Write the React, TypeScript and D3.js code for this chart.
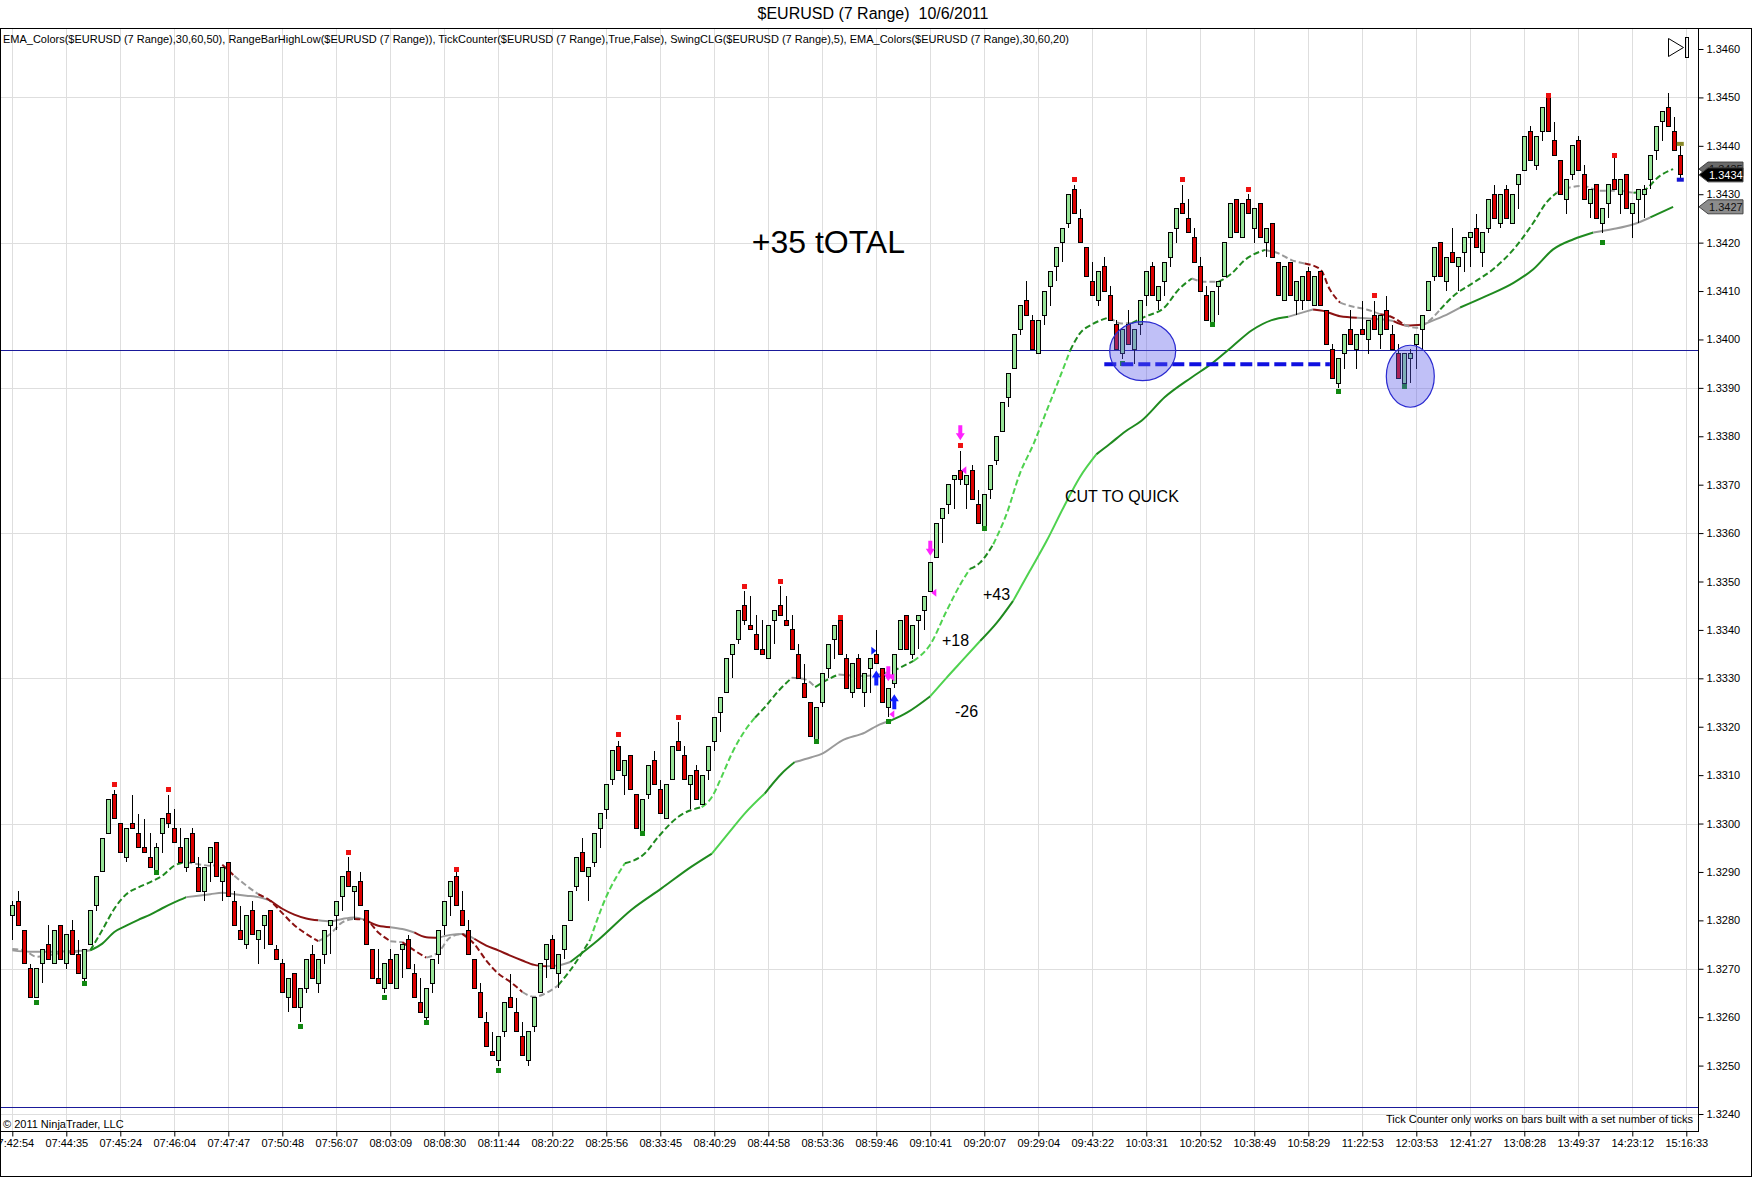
import * as d3 from "d3";
import { useEffect, useRef } from "react";

// prices are kept in pips above 1.3200
const BASE = 1.32;
const PIP = 0.0001;

const opens = [
  81, 84, 78, 70, 64, 71, 75, 71, 79, 71,
  78, 73, 68, 75, 83, 90, 98, 106, 100, 93,
  100, 98, 95, 93, 90, 98, 102, 99, 95, 91,
  98, 91, 86, 92, 96, 88, 92, 84, 78, 75,
  82, 76, 79, 82, 74, 71, 64, 69, 62, 66,
  73, 67, 73, 79, 81, 85, 90, 86, 88, 82,
  74, 68, 66, 72, 66, 74, 76, 69, 63, 60,
  67, 73, 79, 85, 89, 82, 78, 72, 65, 59,
  53, 51, 57, 64, 61, 56, 51, 58, 65, 72,
  76, 69, 74, 80, 87, 94, 89, 92, 99, 103,
  109, 116, 110, 114, 106, 98, 106, 113, 107, 101,
  109, 117, 114, 108, 111, 104, 111, 117, 123, 127,
  135, 138, 145, 141, 139, 136, 134, 142, 145, 142,
  140, 135, 129, 125, 117, 125, 132, 138, 142, 134,
  127, 134, 127, 132, 135, 132, 124, 129, 136, 143,
  135, 142, 144, 148, 155, 163, 166, 171, 173, 170,
  173, 166, 161, 169, 175, 181, 188, 194, 202, 208,
  204, 197, 205, 211, 215, 220, 224, 231, 225, 219,
  212, 208, 215, 209, 203, 197, 203, 198, 203, 209,
  215, 208, 212, 217, 223, 228, 225, 221, 215, 209,
  203, 211, 213, 221, 229, 221, 229, 223, 228, 220,
  224, 216, 208, 216, 208, 208, 214, 207, 214, 206,
  198, 191, 197, 202, 198, 202, 200, 205, 201, 206,
  201, 197, 191, 196, 199, 202, 206, 213, 220, 212,
  218, 215, 218, 221, 223, 218, 223, 230, 224, 231,
  224, 232, 235, 243, 236, 243, 250, 241, 237, 229,
  234, 241, 234, 228, 232, 224, 228, 233, 230, 234,
  226, 229, 230, 233, 239, 245, 248, 243, 238,
];

const highs = [
  84, 86, 78, 71, 70, 74, 79, 78, 79, 77,
  80, 76, 74, 82, 89, 97, 105, 107, 100, 99,
  106, 102, 101, 98, 96, 101, 106, 103, 99, 97,
  99, 93, 91, 95, 96, 91, 92, 86, 83, 81,
  84, 78, 81, 82, 75, 72, 68, 69, 66, 72,
  75, 72, 78, 80, 84, 89, 93, 87, 90, 82,
  74, 74, 71, 74, 73, 75, 77, 71, 68, 66,
  72, 78, 84, 88, 90, 86, 80, 72, 67, 61,
  57, 56, 63, 69, 64, 59, 57, 64, 71, 75,
  77, 73, 79, 86, 93, 97, 91, 98, 102, 108,
  115, 117, 113, 114, 106, 105, 112, 115, 109, 108,
  116, 121, 116, 110, 112, 110, 116, 122, 126, 134,
  137, 144, 148, 147, 143, 142, 141, 144, 149, 147,
  143, 137, 133, 125, 124, 131, 137, 141, 142, 135,
  133, 135, 131, 134, 140, 132, 128, 135, 142, 143,
  141, 143, 147, 154, 162, 165, 170, 172, 177, 172,
  174, 169, 168, 174, 180, 187, 193, 201, 207, 212,
  205, 204, 210, 214, 219, 223, 230, 232, 227, 219,
  216, 214, 217, 211, 204, 202, 206, 202, 208, 214,
  216, 211, 216, 222, 227, 232, 229, 223, 217, 211,
  210, 212, 220, 228, 229, 228, 230, 227, 228, 223,
  224, 216, 215, 216, 212, 213, 215, 213, 214, 206,
  199, 196, 201, 206, 201, 208, 204, 208, 205, 209,
  203, 199, 197, 198, 201, 205, 212, 219, 220, 217,
  223, 217, 221, 222, 226, 222, 229, 232, 230, 232,
  230, 234, 242, 244, 242, 248, 250, 245, 237, 233,
  240, 242, 236, 231, 232, 227, 232, 238, 233, 234,
  228, 231, 232, 238, 244, 247, 251, 246, 240,
];

const lows = [
  76, 79, 71, 64, 64, 67, 72, 71, 72, 70,
  73, 69, 67, 75, 82, 90, 98, 101, 94, 92,
  99, 95, 94, 91, 90, 94, 99, 96, 92, 90,
  92, 86, 84, 88, 89, 84, 85, 79, 76, 74,
  77, 71, 74, 75, 72, 65, 61, 62, 59, 65,
  68, 65, 71, 73, 78, 82, 87, 80, 83, 75,
  68, 67, 65, 67, 66, 68, 70, 64, 61, 59,
  65, 71, 77, 81, 83, 79, 73, 66, 60, 54,
  52, 50, 56, 62, 57, 52, 50, 57, 65, 68,
  70, 66, 72, 80, 86, 90, 84, 91, 95, 101,
  108, 111, 106, 107, 99, 98, 105, 108, 102, 101,
  109, 115, 109, 103, 105, 104, 109, 115, 119, 127,
  130, 137, 141, 140, 136, 135, 134, 137, 143, 141,
  136, 130, 126, 118, 117, 124, 130, 134, 135, 128,
  126, 128, 124, 127, 133, 125, 122, 128, 136, 136,
  134, 136, 140, 148, 155, 158, 164, 165, 170, 165,
  167, 162, 161, 167, 174, 181, 186, 194, 201, 205,
  198, 197, 203, 207, 212, 216, 223, 226, 220, 213,
  209, 207, 210, 204, 198, 196, 199, 195, 201, 207,
  209, 206, 209, 215, 220, 226, 222, 216, 210, 204,
  203, 205, 213, 221, 222, 221, 226, 220, 221, 217,
  217, 209, 208, 209, 205, 206, 208, 207, 207, 199,
  192, 190, 194, 199, 194, 201, 197, 202, 198, 202,
  198, 192, 190, 191, 194, 198, 206, 212, 213, 210,
  216, 210, 214, 215, 219, 215, 222, 225, 223, 225,
  224, 227, 235, 237, 235, 241, 243, 238, 230, 226,
  233, 235, 229, 225, 225, 222, 225, 231, 226, 227,
  221, 224, 225, 231, 237, 241, 244, 239, 233,
];

const closes = [
  83, 79, 71, 64, 70, 74, 72, 78, 72, 77,
  73, 69, 74, 82, 89, 97, 105, 101, 94, 99,
  99, 95, 94, 91, 95, 101, 100, 96, 92, 97,
  92, 86, 91, 95, 89, 91, 85, 79, 76, 81,
  77, 78, 81, 75, 72, 65, 68, 62, 66, 72,
  68, 72, 78, 80, 84, 89, 87, 87, 83, 75,
  68, 67, 71, 67, 73, 75, 70, 64, 61, 66,
  72, 78, 84, 88, 83, 79, 73, 66, 60, 54,
  52, 56, 63, 62, 57, 52, 57, 64, 71, 75,
  70, 73, 79, 86, 93, 90, 91, 98, 102, 108,
  115, 111, 113, 107, 99, 105, 112, 108, 102, 108,
  116, 115, 109, 110, 105, 110, 116, 122, 126, 134,
  137, 144, 142, 140, 136, 135, 141, 144, 143, 141,
  136, 130, 126, 118, 124, 131, 137, 141, 135, 128,
  133, 128, 131, 134, 133, 125, 128, 135, 142, 136,
  141, 143, 147, 154, 162, 165, 170, 172, 171, 172,
  167, 162, 168, 174, 180, 187, 193, 201, 207, 205,
  198, 204, 210, 214, 219, 223, 230, 226, 220, 213,
  209, 214, 210, 204, 198, 202, 199, 202, 208, 214,
  209, 211, 216, 222, 227, 226, 222, 216, 210, 204,
  210, 212, 220, 228, 222, 228, 226, 227, 221, 223,
  217, 209, 215, 209, 212, 213, 208, 213, 207, 199,
  192, 196, 201, 199, 201, 201, 204, 202, 205, 202,
  198, 192, 197, 197, 201, 205, 212, 219, 213, 217,
  216, 217, 221, 222, 219, 222, 229, 225, 230, 225,
  230, 234, 242, 237, 242, 248, 243, 238, 230, 233,
  240, 235, 229, 231, 225, 227, 232, 231, 233, 227,
  228, 231, 231, 238, 244, 247, 244, 239, 234,
];

// EMA readings: [bar, pips, colour of the stretch that follows]
// g = rising, l = rising fast, s = flat, r = falling
const fastEma: [number, number, string][] = [
  [1, 74.1, "s"], [3, 73.8, "s"], [5, 72.5, "s"], [7, 72.8, "s"], [9, 73.2, "s"],
  [11, 73.4, "s"], [14, 73.8, "g"], [16, 78, "g"], [18, 82.4, "g"], [20, 85.4, "g"],
  [22, 86.8, "g"], [24, 87.9, "g"], [26, 89.2, "g"], [28, 91.3, "g"], [30, 92, "s"],
  [32, 91.6, "s"], [34, 91.3, "s"], [36, 91.5, "r"], [38, 89.2, "s"], [40, 87.2, "s"],
  [42, 85.4, "r"], [44, 84, "r"], [46, 81.5, "r"], [48, 79, "r"], [50, 77.2, "r"],
  [52, 75.7, "s"], [54, 77.2, "s"], [56, 79.6, "s"], [58, 80.3, "r"], [60, 80, "r"],
  [62, 77.5, "r"], [64, 75.7, "s"], [66, 75.5, "r"], [68, 73.8, "r"], [70, 72.3, "s"],
  [72, 73.4, "s"], [74, 76.5, "s"], [76, 77.2, "r"], [78, 75.1, "r"], [80, 71.7, "r"],
  [82, 69, "r"], [84, 67.3, "r"], [86, 65.2, "s"], [88, 64.2, "s"], [90, 65, "s"],
  [92, 66.6, "g"], [94, 69.7, "g"], [97.3, 76, "l"], [100, 84.9, "l"], [103.1, 91.8, "g"],
  [106.4, 93.8, "g"], [108.7, 97.3, "g"], [112, 101.4, "g"], [115.9, 103.4, "l"],
  [117.6, 105.5, "l"], [119.2, 109.6, "l"], [120.9, 114.4, "l"], [123.1, 119.2, "l"],
  [124.8, 121.9, "g"], [126.4, 124, "g"], [128.7, 127.4, "g"], [130.9, 130.1, "s"],
  [133.1, 129.8, "s"], [134.8, 128.2, "g"], [137, 129.8, "g"], [138.7, 130.8, "s"],
  [143.1, 130.5, "s"], [147.8, 131.5, "g"], [151.2, 133.6, "l"], [154, 137, "l"],
  [156.7, 143.9, "l"], [159, 149.4, "l"], [160.6, 152.6, "g"], [162.3, 153.9, "g"],
  [164.5, 157.7, "l"], [166.7, 163.9, "l"], [168.9, 172.2, "l"], [171.2, 178.4, "l"],
  [173.4, 185.3, "l"], [175.6, 192.2, "l"], [177.3, 197.7, "g"], [178.9, 201.2, "g"],
  [181.1, 203.2, "g"], [183.9, 204.6, "s"], [185.9, 203.3, "s"], [187.6, 203.4, "g"],
  [189.8, 204.7, "g"], [193.1, 206.7, "g"], [195.3, 210.2, "g"], [197.6, 212.6, "s"],
  [199.8, 211.9, "s"], [202, 211.9, "g"], [204.2, 213.6, "g"], [206.4, 216.4, "g"],
  [209.8, 218.5, "s"], [212, 217.8, "s"], [214.2, 216.4, "s"], [216.4, 215.7, "r"],
  [219, 214.5, "r"], [220.6, 210.3, "r"], [222.3, 207.6, "s"], [224, 206.9, "s"],
  [226.7, 206.2, "s"], [229, 205.2, "r"], [230.6, 204.8, "r"], [232.9, 203.1, "s"],
  [235, 202.4, "s"], [236.7, 203.4, "s"], [239, 206.2, "g"], [241.2, 209, "g"],
  [244.5, 211.7, "g"], [247.8, 214.5, "g"], [251.2, 218.6, "g"], [254.5, 224.1, "g"],
  [256.7, 228.3, "g"], [258.4, 230.3, "s"], [260.6, 231.4, "s"], [262.8, 231.7, "s"],
  [265.6, 230.7, "s"], [268.4, 230.7, "s"], [271.2, 230.3, "g"], [272.8, 230.7, "g"],
  [275.6, 233.8, "g"], [277.8, 235.2, "g"],
];

const slowEma: [number, number, string][] = [
  [1, 73.8, "s"], [4, 73.5, "s"], [7, 73.5, "s"], [10, 73.6, "s"], [14, 73.8, "g"],
  [16, 75.2, "g"], [18, 77.6, "g"], [20, 78.9, "g"], [22, 80.1, "g"], [24, 81.2, "g"],
  [26, 82.5, "g"], [28, 83.7, "g"], [30, 84.8, "s"], [32, 85.1, "s"], [34, 85.4, "s"],
  [36, 85.7, "s"], [38, 85.4, "s"], [40, 85.1, "s"], [42, 84.8, "s"], [44, 84.1, "r"],
  [46, 82.4, "r"], [48, 81.2, "r"], [50, 80.4, "r"], [52, 80, "s"], [54, 79.8, "s"],
  [56, 80.3, "s"], [58, 80.6, "s"], [60, 80, "r"], [62, 78.9, "r"], [64, 78.6, "s"],
  [66, 78.2, "s"], [68, 77.5, "r"], [70, 76.5, "r"], [72, 76.4, "s"], [74, 77, "s"],
  [76, 77.2, "s"], [78, 76.2, "r"], [80, 74.8, "r"], [82, 73.8, "r"], [84, 72.7, "r"],
  [86, 71.7, "r"], [88, 70.8, "r"], [90, 70.5, "s"], [92, 70.7, "s"], [94, 71.4, "g"],
  [98.7, 76, "g"], [104.2, 82.2, "g"], [109.2, 86.6, "g"], [114.2, 91.1, "g"],
  [117.6, 93.8, "l"], [120.3, 97.9, "l"], [123.1, 102.1, "l"], [126.4, 106.2, "g"],
  [129.2, 110.3, "g"], [131.4, 112.7, "s"], [134.2, 113.7, "s"], [135.9, 114.4, "s"],
  [139.2, 117.1, "s"], [143.1, 118.8, "s"], [145.6, 120.5, "s"], [147.3, 121.2, "g"],
  [150.1, 122.9, "g"], [154, 126.3, "l"], [156.7, 130.1, "l"], [159.5, 133.9, "l"],
  [162.3, 137.7, "g"], [165.1, 141.5, "g"], [167.8, 146, "l"], [170.6, 152.2, "l"],
  [173.4, 158.4, "l"], [176.2, 165.3, "l"], [178.9, 171.5, "l"], [181.7, 176.3, "g"],
  [183.9, 178.4, "g"], [186.5, 181, "g"], [189.2, 183.2, "g"], [193.1, 188.1, "g"],
  [197.6, 192.2, "g"], [200.9, 195, "g"], [204.2, 198.4, "g"], [207.6, 201.9, "g"],
  [210.9, 204, "g"], [213.7, 204.7, "s"], [216.4, 205.7, "s"], [217.8, 206.2, "r"],
  [219.5, 205.9, "r"], [222.3, 204.8, "r"], [225.1, 204.5, "s"], [229.5, 204.1, "s"],
  [231.2, 203.8, "r"], [233.4, 202.9, "r"], [236.2, 203.1, "s"], [239.5, 204.8, "s"],
  [242.3, 206.6, "g"], [246.7, 209, "g"], [251.2, 211.7, "g"], [254.5, 214.5, "g"],
  [257.8, 218.6, "g"], [261.2, 220.7, "g"], [264.5, 222.1, "s"], [267.8, 222.8, "s"],
  [271.2, 223.8, "s"], [274, 225.2, "g"], [277.8, 227.4, "g"],
];

// swing points: [bar, pips]
const swingHighs: [number, number][] = [
  [18, 108], [27, 107], [57, 94], [75, 90.5], [102, 118.3], [112, 122], [123, 149],
  [129, 150], [139, 142.5], [159, 178], [178, 233], [196, 233], [207, 231],
  [228, 209], [257, 250.4], [268, 238],
];
const swingLows: [number, number][] = [
  [5, 63], [13, 67], [25, 89.9], [49, 58], [63, 64], [70, 59], [82, 49], [106, 98],
  [135, 117], [147, 121], [163, 161], [186, 195], [201, 203], [222, 189.2],
  [233, 190.2], [266, 220],
];

// trade markers: [bar, pips]
const sellArrows: [number, number][] = [[147, 129.4], [154, 155.3], [159, 179.2]];
const buyArrows: [number, number][] = [[145, 131.6], [148, 126.7]];
const exitMarks: [number, number][] = [[147, 130.2], [147, 122.6], [154, 147.7], [159, 173]];
const entryMarks: [number, number][] = [[145, 135.7]];

// drawn objects
const hLines = [1.33978, 1.32414];
const supportLine = { from: 183, to: 220.6, price: 1.33949 };
const ellipses = [
  { b0: 183.9, b1: 194.9, p0: 191.5, p1: 203.7 },
  { b0: 230, b1: 238, p0: 186, p1: 198.8 },
];

const timeLabels = [
  "07:42:54", "07:44:35", "07:45:24", "07:46:04", "07:47:47", "07:50:48", "07:56:07",
  "08:03:09", "08:08:30", "08:11:44", "08:20:22", "08:25:56", "08:33:45", "08:40:29",
  "08:44:58", "08:53:36", "08:59:46", "09:10:41", "09:20:07", "09:29:04", "09:43:22",
  "10:03:31", "10:20:52", "10:38:49", "10:58:29", "11:22:53", "12:03:53", "12:41:27",
  "13:08:28", "13:49:37", "14:23:12", "15:16:33",
];
const priceTicks = [
  1.324, 1.325, 1.326, 1.327, 1.328, 1.329, 1.33, 1.331, 1.332, 1.333, 1.334, 1.335,
  1.336, 1.337, 1.338, 1.339, 1.34, 1.341, 1.342, 1.343, 1.344, 1.345, 1.346,
];
const gridPrices = [1.324, 1.327, 1.33, 1.333, 1.336, 1.339, 1.342, 1.345];

const indicatorText =
  "EMA_Colors($EURUSD (7 Range),30,60,50), RangeBarHighLow($EURUSD (7 Range)), TickCounter($EURUSD (7 Range),True,False), SwingCLG($EURUSD (7 Range),5), EMA_Colors($EURUSD (7 Range),30,60,20)";

const emaColors: Record<string, string> = {
  g: "#1f8a1f",
  l: "#4fd24f",
  s: "#9a9a9a",
  r: "#8b1212",
};

export default function App() {
  const svgRef = useRef<SVGSVGElement>(null);

  useEffect(() => {
    document.body.style.margin = "0";
    const W = 1752;
    const H = 1177;
    const font = "'Liberation Sans', Arial, sans-serif";
    const plot = { left: 0.5, top: 28.5, right: 1698.5, bottom: 1131.5 };

    const svg = d3.select(svgRef.current);
    svg.selectAll("*").remove();
    svg
      .attr("width", W)
      .attr("height", H)
      .style("display", "block")
      .style("background", "#fff")
      .style("font-family", font);

    const x = d3.scaleLinear().domain([1, 279]).range([12.3, 12.3 + 6 * 278]);
    const y = d3.scaleLinear().domain([1.324, 1.346]).range([1114, 49]);
    const py = (p: number) => y(BASE + p * PIP);
    const snap = (v: number) => Math.round(v) + 0.5;
    const tickBars = timeLabels.map((_, i) => 1 + 9 * i);

    // grid
    const grid = svg.append("g").attr("stroke", "#dedede").attr("stroke-width", 1);
    grid
      .selectAll(".vg")
      .data(tickBars)
      .enter()
      .append("line")
      .attr("x1", (d) => snap(x(d)))
      .attr("x2", (d) => snap(x(d)))
      .attr("y1", plot.top)
      .attr("y2", plot.bottom);
    grid
      .selectAll(".hg")
      .data(gridPrices)
      .enter()
      .append("line")
      .attr("x1", plot.left)
      .attr("x2", plot.right)
      .attr("y1", (d) => snap(y(d)))
      .attr("y2", (d) => snap(y(d)));

    // title and texts
    svg
      .append("text")
      .attr("x", 873)
      .attr("y", 19)
      .attr("text-anchor", "middle")
      .attr("font-size", 16)
      .style("white-space", "pre")
      .text("$EURUSD (7 Range)  10/6/2011");
    svg
      .append("text")
      .attr("x", 3)
      .attr("y", 43)
      .attr("font-size", 11)
      .attr("textLength", 1066)
      .attr("lengthAdjust", "spacingAndGlyphs")
      .text(indicatorText);

    // horizontal lines
    svg
      .selectAll(".hl")
      .data(hLines)
      .enter()
      .append("line")
      .attr("x1", plot.left)
      .attr("x2", plot.right)
      .attr("y1", (d) => snap(y(d)))
      .attr("y2", (d) => snap(y(d)))
      .attr("stroke", "#1a1a9a")
      .attr("stroke-width", 1);

    // EMA lines
    const line = d3
      .line<[number, number, string]>()
      .x((d) => x(d[0]))
      .y((d) => py(d[1]))
      .curve(d3.curveMonotoneX);
    const drawEma = (pts: [number, number, string][], dashed: boolean) => {
      const g = svg.append("g").attr("fill", "none").attr("stroke-width", 2);
      let start = 0;
      for (let i = 1; i < pts.length; i++) {
        if (i === pts.length - 1 || pts[i][2] !== pts[start][2]) {
          const run = pts.slice(start, i + 1);
          g.append("path")
            .attr("d", line(run))
            .attr("stroke", emaColors[pts[start][2]])
            .attr("stroke-dasharray", dashed ? "6,3" : null);
          start = i;
        }
      }
    };
    drawEma(slowEma, false);
    drawEma(fastEma, true);

    // candles
    const bars = d3.range(opens.length);
    const candles = svg.append("g").attr("shape-rendering", "crispEdges");
    candles
      .selectAll(".wick")
      .data(bars)
      .enter()
      .append("line")
      .attr("x1", (i) => Math.round(x(i + 1)) + 0.5)
      .attr("x2", (i) => Math.round(x(i + 1)) + 0.5)
      .attr("y1", (i) => py(highs[i]))
      .attr("y2", (i) => py(lows[i]))
      .attr("stroke", "#000");
    candles
      .selectAll(".body")
      .data(bars)
      .enter()
      .append("rect")
      .attr("x", (i) => Math.round(x(i + 1)) - 1.5)
      .attr("width", 4)
      .attr("y", (i) => py(Math.max(opens[i], closes[i])))
      .attr("height", (i) =>
        Math.max(1.5, Math.abs(py(opens[i]) - py(closes[i])))
      )
      .attr("fill", (i) => (closes[i] >= opens[i] ? "#98e498" : "#dc0000"))
      .attr("stroke", "#000")
      .attr("stroke-width", 1);

    // swing markers
    const sq = svg.append("g").attr("shape-rendering", "crispEdges");
    sq.selectAll(".sh")
      .data(swingHighs)
      .enter()
      .append("rect")
      .attr("x", (d) => Math.round(x(d[0])) - 2)
      .attr("y", (d) => py(d[1]) - 2.5)
      .attr("width", 5)
      .attr("height", 5)
      .attr("fill", "#ee1111");
    sq.selectAll(".sl")
      .data(swingLows)
      .enter()
      .append("rect")
      .attr("x", (d) => Math.round(x(d[0])) - 2)
      .attr("y", (d) => py(d[1]) - 2.5)
      .attr("width", 5)
      .attr("height", 5)
      .attr("fill", "#118811");

    // last bar high / low marks
    const last = opens.length;
    svg
      .append("rect")
      .attr("x", x(last) - 3.5)
      .attr("y", py(highs[last - 1] + 0.4) - 2)
      .attr("width", 7)
      .attr("height", 4)
      .attr("fill", "#8a8a2a");
    svg
      .append("rect")
      .attr("x", x(last) - 3.5)
      .attr("y", py(lows[last - 1]) - 2)
      .attr("width", 7)
      .attr("height", 4)
      .attr("fill", "#1414d2");

    // trade markers
    const arrow = "M0,0 L4.5,-7 L2,-7 L2,-15 L-2,-15 L-2,-7 L-4.5,-7 Z";
    svg
      .selectAll(".sell")
      .data(sellArrows)
      .enter()
      .append("path")
      .attr("d", arrow)
      .attr("transform", (d) => `translate(${x(d[0])},${py(d[1])})`)
      .attr("fill", "#ff22ff");
    svg
      .selectAll(".buy")
      .data(buyArrows)
      .enter()
      .append("path")
      .attr("d", arrow)
      .attr("transform", (d) => `translate(${x(d[0])},${py(d[1])}) scale(1,-1)`)
      .attr("fill", "#1020ff");
    svg
      .selectAll(".exit")
      .data(exitMarks)
      .enter()
      .append("path")
      .attr("d", "M1,0 L6,-4 L6,4 Z")
      .attr("transform", (d) => `translate(${x(d[0])},${py(d[1])})`)
      .attr("fill", "#ff22ff");
    svg
      .selectAll(".entry")
      .data(entryMarks)
      .enter()
      .append("path")
      .attr("d", "M0,0 L-5,-4 L-5,4 Z")
      .attr("transform", (d) => `translate(${x(d[0])},${py(d[1])})`)
      .attr("fill", "#1020ff");

    // drawn support line and circles
    svg
      .append("line")
      .attr("x1", x(supportLine.from))
      .attr("x2", x(supportLine.to))
      .attr("y1", y(supportLine.price))
      .attr("y2", y(supportLine.price))
      .attr("stroke", "#1010e0")
      .attr("stroke-width", 4)
      .attr("stroke-dasharray", "12,5");
    svg
      .selectAll(".ell")
      .data(ellipses)
      .enter()
      .append("ellipse")
      .attr("cx", (d) => (x(d.b0) + x(d.b1)) / 2)
      .attr("cy", (d) => (py(d.p0) + py(d.p1)) / 2)
      .attr("rx", (d) => (x(d.b1) - x(d.b0)) / 2)
      .attr("ry", (d) => (py(d.p0) - py(d.p1)) / 2)
      .attr("fill", "rgba(90, 90, 235, 0.38)")
      .attr("stroke", "#2a2ad0")
      .attr("stroke-width", 1.2);

    // annotations
    svg
      .append("text")
      .attr("x", 905)
      .attr("y", 253)
      .attr("text-anchor", "end")
      .attr("font-size", 32)
      .text("+35 tOTAL");
    const notes: [string, number, number][] = [
      ["CUT TO QUICK", 1065, 502],
      ["+43", 983, 600],
      ["+18", 942, 646],
      ["-26", 955, 717],
    ];
    svg
      .selectAll(".note")
      .data(notes)
      .enter()
      .append("text")
      .attr("x", (d) => d[1])
      .attr("y", (d) => d[2])
      .attr("font-size", 16)
      .text((d) => d[0]);

    svg
      .append("text")
      .attr("x", 3)
      .attr("y", 1128)
      .attr("font-size", 11)
      .text("\u00a9 2011 NinjaTrader, LLC");
    svg
      .append("text")
      .attr("x", 1693)
      .attr("y", 1123)
      .attr("text-anchor", "end")
      .attr("font-size", 11)
      .text("Tick Counter only works on bars built with a set number of ticks");

    // play icon
    svg
      .append("path")
      .attr("d", "M1668.5,38.5 L1683.5,47.5 L1668.5,56.5 Z")
      .attr("fill", "none")
      .attr("stroke", "#000");
    svg
      .append("rect")
      .attr("x", 1685.5)
      .attr("y", 37.5)
      .attr("width", 3)
      .attr("height", 20)
      .attr("fill", "none")
      .attr("stroke", "#000");

    // frames
    svg
      .append("rect")
      .attr("x", plot.left)
      .attr("y", plot.top)
      .attr("width", plot.right - plot.left)
      .attr("height", plot.bottom - plot.top)
      .attr("fill", "none")
      .attr("stroke", "#000");
    svg
      .append("line")
      .attr("x1", 0)
      .attr("x2", W)
      .attr("y1", plot.top)
      .attr("y2", plot.top)
      .attr("stroke", "#000");
    svg
      .append("rect")
      .attr("x", 0.5)
      .attr("y", plot.top)
      .attr("width", W - 1)
      .attr("height", H - plot.top - 0.5)
      .attr("fill", "none")
      .attr("stroke", "#000");

    // axes
    const yAxis = svg
      .append("g")
      .attr("transform", `translate(${plot.right},0)`)
      .call(
        d3
          .axisRight(y)
          .tickValues(priceTicks)
          .tickSize(5)
          .tickPadding(3)
          .tickFormat((d) => (d as number).toFixed(4))
      );
    yAxis.select(".domain").remove();
    yAxis.selectAll("text").attr("font-size", 11).attr("font-family", font).attr("fill", "#000");

    const xAxis = svg
      .append("g")
      .attr("transform", `translate(0,${plot.bottom})`)
      .call(
        d3
          .axisBottom(x)
          .tickValues(tickBars)
          .tickSize(5)
          .tickPadding(3)
          .tickFormat((_, i) => timeLabels[i])
      );
    xAxis.select(".domain").remove();
    xAxis.selectAll("text").attr("font-size", 11).attr("font-family", font).attr("fill", "#000");

    // price tags
    const tag = (price: number, fill: string, color: string) => {
      const cy = y(price);
      const g = svg.append("g");
      g.append("path")
        .attr(
          "d",
          `M1699,${cy} L1708,${cy - 7} L1743,${cy - 7} L1743,${cy + 7} L1708,${cy + 7} Z`
        )
        .attr("fill", fill)
        .attr("stroke", "#444");
      g.append("text")
        .attr("x", 1709)
        .attr("y", cy + 4)
        .attr("font-size", 11)
        .attr("fill", color)
        .text(price.toFixed(4));
    };
    const lastFast = fastEma[fastEma.length - 1][1];
    const lastSlow = slowEma[slowEma.length - 1][1];
    tag(BASE + lastFast * PIP, "#6a6a6a", "#111");
    tag(BASE + closes[last - 1] * PIP, "#000", "#fff");
    tag(BASE + lastSlow * PIP, "#8c8c8c", "#111");
  }, []);

  return <svg ref={svgRef} />;
}
